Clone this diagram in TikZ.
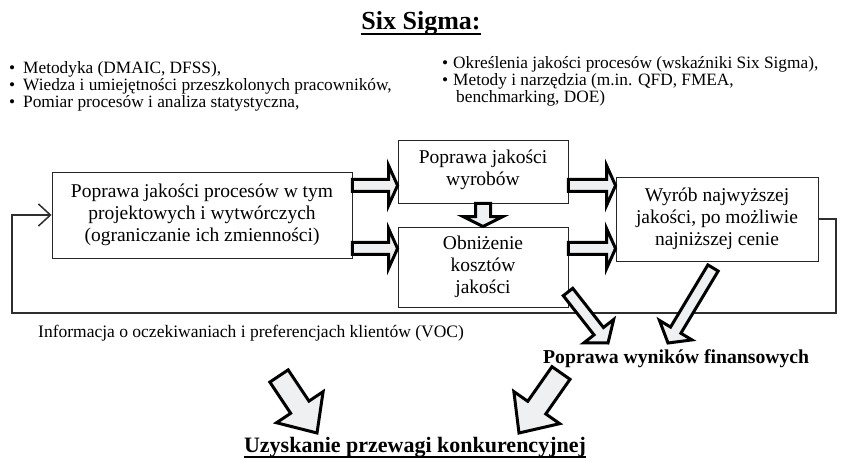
\documentclass[tikz,border=0pt]{standalone}
\usepackage{fontspec}
\setmainfont{Liberation Serif}
\usetikzlibrary{calc,arrows.meta}
\definecolor{arrowfill}{HTML}{EEF0F2}
\definecolor{lineink}{HTML}{2E2E2E}

% Hollow block arrow from #1 to #2: half shaft width #3, half head width #4, head length #5
\newcommand\blockarr[5]{%
  \coordinate (ba-s) at #1;
  \coordinate (ba-e) at #2;
  \coordinate (ba-b) at ($(ba-e)!#5!(ba-s)$);
  \draw[blockarrow]
    ($(ba-s)!#3!90:(ba-e)$) -- ($(ba-b)!#3!90:(ba-e)$) -- ($(ba-b)!#4!90:(ba-e)$)
    -- (ba-e)
    -- ($(ba-b)!#4!-90:(ba-e)$) -- ($(ba-b)!#3!-90:(ba-e)$) -- ($(ba-s)!#3!-90:(ba-e)$)
    -- cycle;
}

\begin{document}
% y grows downwards: coordinates are measured from the top left corner
\begin{tikzpicture}[x=1pt,y=-1pt,
  box/.style={draw=black!85, line width=0.9pt, fill=white, align=center, inner sep=0pt,
    font=\fontsize{19.5}{22}\selectfont},
  blockarrow/.style={draw=black, line width=3pt, fill=arrowfill, line join=miter, miter limit=20},
  smalltext/.style={font=\fontsize{17.3}{20}\selectfont, anchor=base west, inner sep=0pt},
  boldtext/.style={font=\fontsize{19.7}{22}\selectfont\bfseries, inner sep=0pt},
  feedback/.style={draw=lineink, line width=1.8pt},
  ulrule/.style={draw=black, line width=2pt}
]
\useasboundingbox (0,0) rectangle (841,465);

% heading
\node[boldtext, font=\fontsize{26}{30}\selectfont\bfseries, anchor=base] (title) at (421,30) {Six Sigma:};
\draw[ulrule] ([yshift=-4pt]title.base west) -- ([yshift=-4pt]title.base east);

% Six Sigma components, left column
\node[smalltext] (b1) at (9,74)  {\makebox[14pt][l]{•}Metodyka (DMAIC, DFSS),};
\node[smalltext] (b2) at (9,91)  {\makebox[14pt][l]{•}Wiedza i umiejętności przeszkolonych pracowników,};
\node[smalltext] (b3) at (9,108) {\makebox[14pt][l]{•}Pomiar procesów i analiza statystyczna,};
% right column
\node[smalltext] (b4) at (442,69)  {\makebox[11pt][l]{•}Określenia jakości procesów (wskaźniki Six Sigma),};
\node[smalltext] (b5) at (442,86)  {\makebox[11pt][l]{•}Metody i narzędzia (m.in. QFD, FMEA,};
\node[smalltext] (b6) at (456,103) {benchmarking, DOE)};

% process boxes
\node[box, minimum width=300pt, minimum height=86pt] (L) at (202,215)
  {Poprawa jakości procesów w tym\\projektowych i wytwórczych\\(ograniczanie ich zmienności)};
\node[box, minimum width=170pt, minimum height=63pt] (T) at (483,171.5)
  {Poprawa jakości\\wyrobów\\[-14pt]\mbox{}};
\node[box, minimum width=170pt, minimum height=80pt] (B) at (483,267)
  {Obniżenie\\kosztów\\jakości};
\node[box, minimum width=202pt, minimum height=84pt] (R) at (717,219)
  {Wyrób najwyższej\\jakości, po możliwie\\najniższej cenie};

% customer feedback loop
\coordinate (fbR) at (836,313);
\coordinate (fbL) at (12,313);
\draw[feedback, -{Straight Barb[length=12pt, width=22pt, line width=1.5pt]}]
  (R.east) -| (fbR) -- (fbL) |- (L.west);
\node[smalltext, font=\fontsize{17.5}{20}\selectfont] (voc) at (38,337)
  {Informacja o oczekiwaniach i preferencjach klientów (VOC)};

% outcomes
\node[boldtext, anchor=base west] (fin) at (543,363) {Poprawa wyników finansowych};
\node[boldtext, font=\fontsize{22}{26}\selectfont\bfseries, anchor=base] (goal) at (415,452)
  {Uzyskanie przewagi konkurencyjnej};
\draw[ulrule, line width=2.5pt] ([yshift=-5pt]goal.base west) -- ([yshift=-5pt]goal.base east);

% flow between the boxes
\blockarr{(L.east |- 0,185.5)}{(T.west |- 0,185.5)}{6pt}{20pt}{9pt}
\blockarr{(L.east |- 0,248.5)}{(B.west |- 0,248.5)}{6pt}{20pt}{9pt}
\blockarr{(T.east |- 0,185.5)}{(R.west |- 0,185.5)}{6pt}{20pt}{9pt}
\blockarr{(B.east |- 0,248.5)}{(R.west |- 0,248.5)}{6pt}{20pt}{9pt}
\blockarr{(T.south)}{(B.north)}{7.5pt}{20pt}{10pt}

% towards financial results
\coordinate (f1) at (568,292);
\coordinate (f1t) at (608,343);
\coordinate (f2) at (713,268);
\coordinate (f2t) at (668,343);
\blockarr{(f1)}{(f1t)}{6pt}{19pt}{15pt}
\blockarr{(f2)}{(f2t)}{6pt}{19pt}{15pt}

% towards competitive advantage
\coordinate (g1) at (279,376);
\coordinate (g1t) at (317,433);
\coordinate (g2) at (561,373);
\coordinate (g2t) at (519,433);
\blockarr{(g1)}{(g1t)}{11pt}{28pt}{31pt}
\blockarr{(g2)}{(g2t)}{11pt}{28pt}{31pt}
\end{tikzpicture}
\end{document}
